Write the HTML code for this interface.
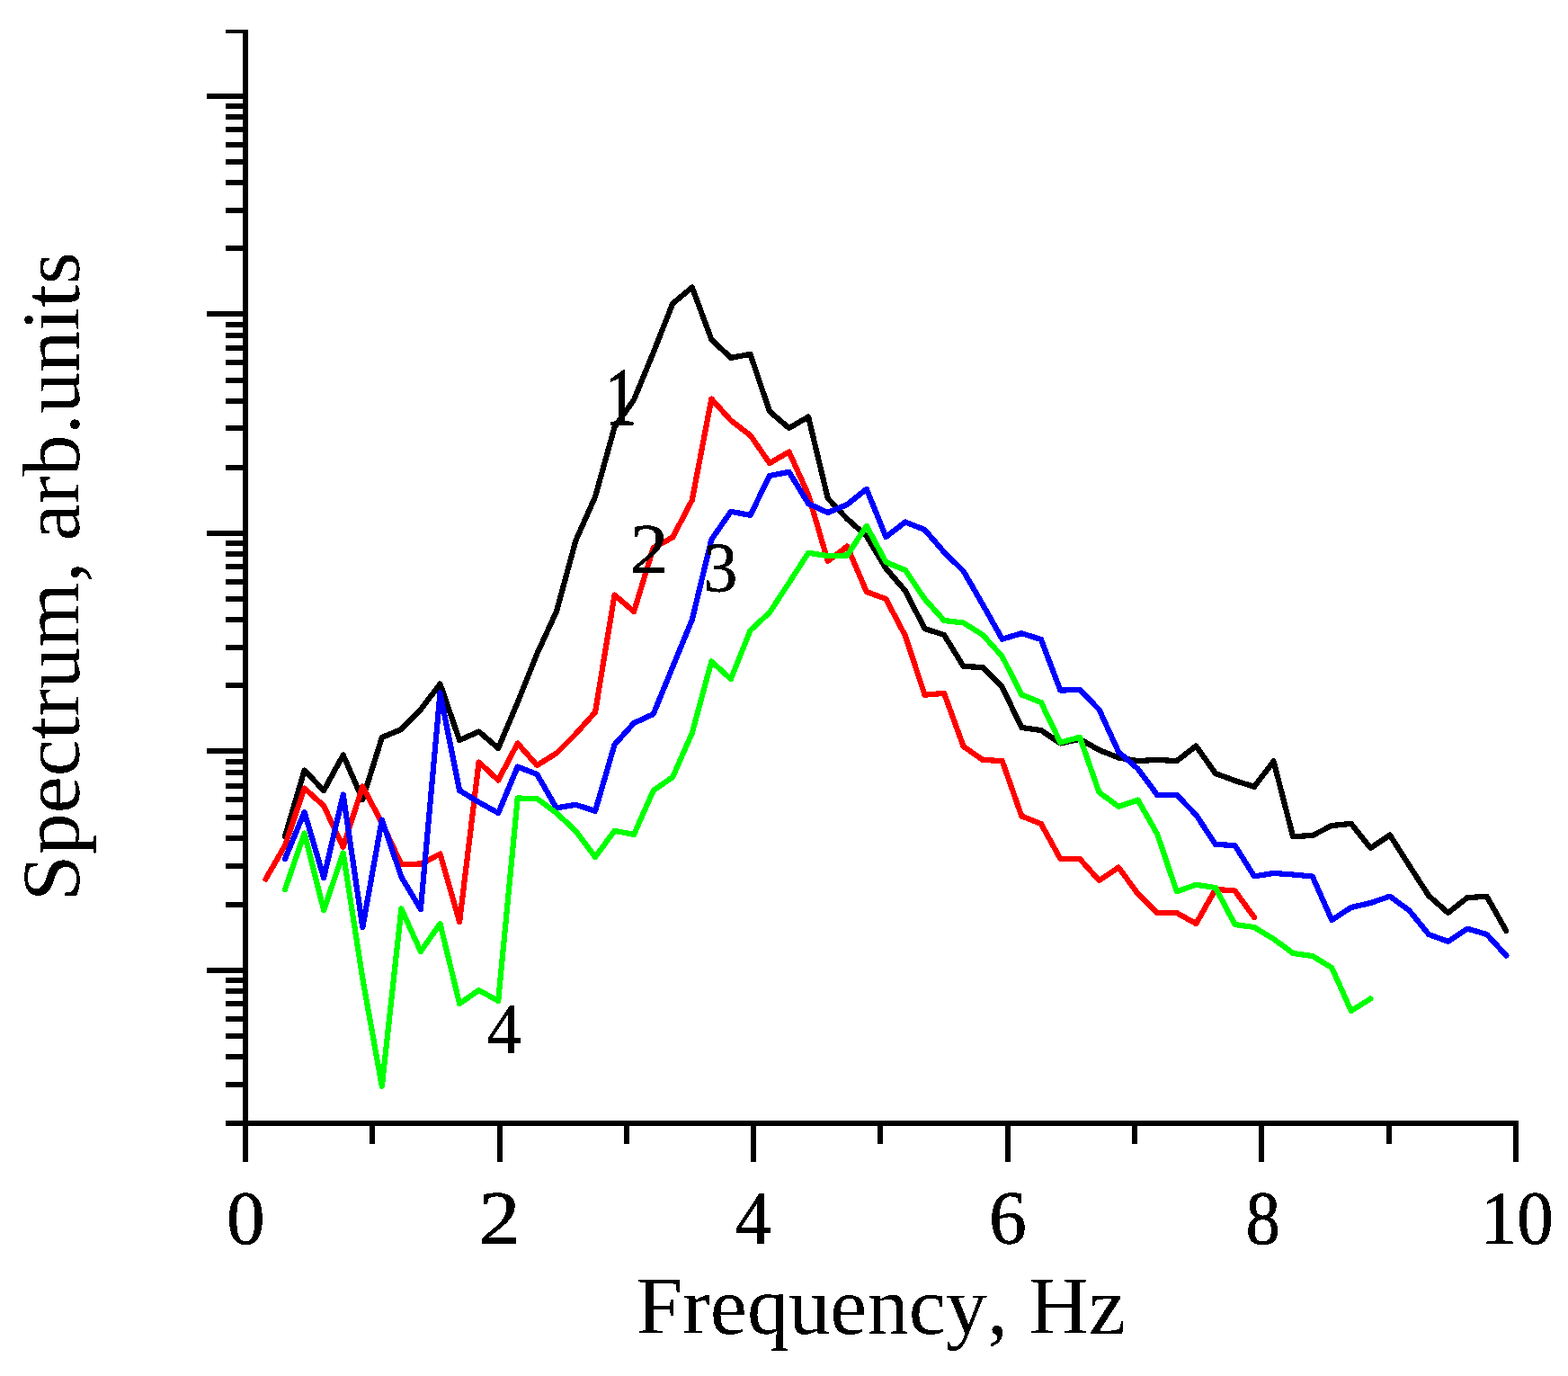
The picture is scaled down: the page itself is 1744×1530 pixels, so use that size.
<!DOCTYPE html>
<html lang="en">
<head>
<meta charset="utf-8">
<title>Spectrum vs Frequency</title>
<style>
html,body{margin:0;padding:0;background:#fff;}
body{width:1744px;height:1530px;overflow:hidden;font-family:"Liberation Serif","DejaVu Serif",serif;}
svg{display:block;}
</style>
</head>
<body>
<svg width="1744" height="1530" viewBox="0 0 1744 1530">
<defs><filter id="bin" x="0" y="0" width="1744" height="1530" filterUnits="userSpaceOnUse" color-interpolation-filters="sRGB"><feComponentTransfer><feFuncA type="discrete" tableValues="0 1"/></feComponentTransfer></filter></defs>
<rect width="1744" height="1530" fill="#fff"/>
<path d="M270,33H276V1292H270ZM251,1246H1689V1252H251ZM230,104H273V110H230ZM251,273H273V279H251ZM251,231H273V237H251ZM251,200H273V206H251ZM251,177H273V183H251ZM251,158H273V164H251ZM251,141H273V147H251ZM251,127H273V133H251ZM251,115H273V121H251ZM230,346H273V352H230ZM251,517H273V523H251ZM251,473H273V479H251ZM251,443H273V449H251ZM251,420H273V426H251ZM251,400H273V406H251ZM251,384H273V390H251ZM251,370H273V376H251ZM251,358H273V364H251ZM230,590H273V596H230ZM251,759H273V765H251ZM251,717H273V723H251ZM251,686H273V692H251ZM251,663H273V669H251ZM251,644H273V650H251ZM251,627H273V633H251ZM251,613H273V619H251ZM251,601H273V607H251ZM230,832H273V838H230ZM251,1003H273V1009H251ZM251,960H273V966H251ZM251,929H273V935H251ZM251,906H273V912H251ZM251,886H273V892H251ZM251,871H273V877H251ZM251,856H273V862H251ZM251,844H273V850H251ZM230,1076H273V1082H230ZM251,1203H273V1209H251ZM251,1172H273V1178H251ZM251,1149H273V1155H251ZM251,1130H273V1136H251ZM251,1113H273V1119H251ZM251,1099H273V1105H251ZM251,1087H273V1093H251ZM251,33H273V37H251ZM411,1249H417V1272H411ZM553,1249H559V1292H553ZM694,1249H700V1272H694ZM835,1249H841V1292H835ZM976,1249H982V1272H976ZM1118,1249H1124V1292H1118ZM1259,1249H1265V1272H1259ZM1400,1249H1406V1292H1400ZM1542,1249H1548V1272H1542ZM1683,1249H1689V1292H1683Z" fill="#000" shape-rendering="crispEdges"/>
<polyline points="317.0,930.0 338.6,856.5 360.1,879.0 381.7,839.5 403.3,889.0 424.8,820.0 446.4,811.0 467.9,789.0 489.5,760.5 511.1,823.0 532.6,813.5 554.2,832.0 575.7,781.0 597.3,727.0 618.9,680.0 640.4,601.0 662.0,552.5 683.5,475.0 705.1,444.5 726.7,392.0 748.2,337.5 769.8,319.5 791.3,377.5 812.9,397.9 834.5,393.8 856.0,457.5 877.6,476.0 899.1,463.5 920.7,554.0 942.3,577.0 963.8,596.0 985.4,632.0 1006.9,657.0 1028.5,699.0 1050.1,706.0 1071.6,741.0 1093.2,742.0 1114.7,764.0 1136.3,809.0 1157.9,812.0 1179.4,826.5 1201.0,821.8 1222.5,834.0 1244.1,842.5 1265.7,846.1 1287.2,844.9 1308.8,846.1 1330.3,829.5 1351.9,860.0 1373.5,868.0 1395.0,874.8 1416.6,846.5 1438.1,930.1 1459.7,929.0 1481.3,918.0 1502.8,915.9 1524.4,943.0 1545.9,928.5 1567.5,962.5 1589.1,996.0 1610.6,1015.0 1632.2,998.0 1653.7,996.9 1675.3,1035.0" fill="none" stroke="#000000" stroke-width="6.2" stroke-linejoin="round" stroke-linecap="round" shape-rendering="crispEdges"/>
<polyline points="295.5,977.5 317.0,940.0 338.6,876.5 360.1,896.0 381.7,942.0 403.3,874.5 424.8,915.0 446.4,961.1 467.9,960.5 489.5,949.5 511.1,1025.0 532.6,847.5 554.2,867.5 575.7,826.5 597.3,851.0 618.9,837.5 640.4,816.0 662.0,792.0 683.5,661.5 705.1,680.0 726.7,609.0 748.2,597.5 769.8,556.0 791.3,443.5 812.9,467.5 834.5,484.0 856.0,515.0 877.6,502.5 899.1,550.0 920.7,624.0 942.3,607.5 963.8,658.0 985.4,666.0 1006.9,707.0 1028.5,772.7 1050.1,770.9 1071.6,830.0 1093.2,845.0 1114.7,846.0 1136.3,907.5 1157.9,916.0 1179.4,955.0 1201.0,955.0 1222.5,979.0 1244.1,964.5 1265.7,994.0 1287.2,1015.0 1308.8,1015.0 1330.3,1027.0 1351.9,988.9 1373.5,990.5 1395.0,1020.0" fill="none" stroke="#ff0000" stroke-width="6.2" stroke-linejoin="round" stroke-linecap="round" shape-rendering="crispEdges"/>
<polyline points="317.0,955.0 338.6,903.0 360.1,976.0 381.7,883.5 403.3,1031.0 424.8,911.5 446.4,975.0 467.9,1011.0 489.5,770.5 511.1,879.0 532.6,892.0 554.2,904.0 575.7,852.5 597.3,861.0 618.9,898.4 640.4,894.8 662.0,901.8 683.5,828.0 705.1,804.0 726.7,794.0 748.2,741.5 769.8,689.0 791.3,600.0 812.9,568.8 834.5,572.9 856.0,529.0 877.6,524.8 899.1,560.0 920.7,570.0 942.3,561.0 963.8,543.8 985.4,597.0 1006.9,580.5 1028.5,589.0 1050.1,614.0 1071.6,635.0 1093.2,672.5 1114.7,710.7 1136.3,704.2 1157.9,711.0 1179.4,767.6 1201.0,767.0 1222.5,789.0 1244.1,836.0 1265.7,855.0 1287.2,884.0 1308.8,884.0 1330.3,906.0 1351.9,939.0 1373.5,940.0 1395.0,974.4 1416.6,970.9 1438.1,972.5 1459.7,974.5 1481.3,1023.0 1502.8,1009.0 1524.4,1004.0 1545.9,996.6 1567.5,1012.5 1589.1,1039.0 1610.6,1046.9 1632.2,1032.6 1653.7,1039.0 1675.3,1062.5" fill="none" stroke="#0000ff" stroke-width="6.2" stroke-linejoin="round" stroke-linecap="round" shape-rendering="crispEdges"/>
<polyline points="317.0,989.0 338.6,926.5 360.1,1012.0 381.7,948.5 403.3,1088.0 424.8,1208.0 446.4,1010.5 467.9,1058.0 489.5,1027.0 511.1,1116.0 532.6,1101.0 554.2,1113.0 575.7,887.5 597.3,888.0 618.9,904.0 640.4,924.0 662.0,953.0 683.5,923.8 705.1,927.9 726.7,879.0 748.2,864.0 769.8,815.0 791.3,735.5 812.9,755.0 834.5,701.0 856.0,681.0 877.6,648.0 899.1,614.8 920.7,618.1 942.3,617.5 963.8,584.8 985.4,625.0 1006.9,634.0 1028.5,666.0 1050.1,690.0 1071.6,692.5 1093.2,706.0 1114.7,730.0 1136.3,772.5 1157.9,781.0 1179.4,825.6 1201.0,819.7 1222.5,881.0 1244.1,896.8 1265.7,889.6 1287.2,927.5 1308.8,991.3 1330.3,983.8 1351.9,987.0 1373.5,1028.0 1395.0,1031.0 1416.6,1044.0 1438.1,1060.0 1459.7,1063.0 1481.3,1076.0 1502.8,1124.0 1524.4,1110.5" fill="none" stroke="#00ff00" stroke-width="6.2" stroke-linejoin="round" stroke-linecap="round" shape-rendering="crispEdges"/>
<g filter="url(#bin)">
<text transform="translate(273.30,1382.60) scale(1.0,1)" font-size="85.3" text-anchor="middle" stroke="#000" stroke-width="0.7" stroke-linejoin="round" font-family="'Liberation Serif', 'DejaVu Serif', serif">0</text>
<text transform="translate(555.60,1382.60) scale(1.08,1)" font-size="85.3" text-anchor="middle" stroke="#000" stroke-width="0.7" stroke-linejoin="round" font-family="'Liberation Serif', 'DejaVu Serif', serif">2</text>
<text transform="translate(837.80,1382.60) scale(0.93,1)" font-size="85.3" text-anchor="middle" stroke="#000" stroke-width="0.7" stroke-linejoin="round" font-family="'Liberation Serif', 'DejaVu Serif', serif">4</text>
<text transform="translate(1120.90,1382.60) scale(0.98,1)" font-size="85.3" text-anchor="middle" stroke="#000" stroke-width="0.7" stroke-linejoin="round" font-family="'Liberation Serif', 'DejaVu Serif', serif">6</text>
<text transform="translate(1404.80,1382.60) scale(0.9,1)" font-size="85.3" text-anchor="middle" stroke="#000" stroke-width="0.7" stroke-linejoin="round" font-family="'Liberation Serif', 'DejaVu Serif', serif">8</text>
<text transform="translate(1687.20,1382.60) scale(0.95,1)" font-size="85.3" text-anchor="middle" stroke="#000" stroke-width="0.7" stroke-linejoin="round" font-family="'Liberation Serif', 'DejaVu Serif', serif">10</text>
<text transform="translate(979.8,1483.4) scale(1.013,1)" font-size="91.3" text-anchor="middle" style="font-kerning:none" font-family="'Liberation Serif', 'DejaVu Serif', serif">Frequency, Hz</text>
<text transform="translate(87.6,641.1) rotate(-90) scale(1.013,1)" font-size="91.3" text-anchor="middle" style="font-kerning:none" font-family="'Liberation Serif', 'DejaVu Serif', serif">Spectrum, arb.units</text>
<text transform="translate(690.60,472.35) scale(0.77,1)" font-size="90.8" text-anchor="middle" stroke="#000" stroke-width="1.3" stroke-linejoin="round" font-family="'Liberation Serif', 'DejaVu Serif', serif">1</text>
<text transform="translate(722.00,635.60) scale(1.097,1)" font-size="78.3" text-anchor="middle" stroke="#000" stroke-width="0.7" stroke-linejoin="round" font-family="'Liberation Serif', 'DejaVu Serif', serif">2</text>
<text transform="translate(801.30,657.20) scale(0.958,1)" font-size="78.8" text-anchor="middle" stroke="#000" stroke-width="0.7" stroke-linejoin="round" font-family="'Liberation Serif', 'DejaVu Serif', serif">3</text>
<text transform="translate(560.60,1170.70) scale(0.95,1)" font-size="80.3" text-anchor="middle" stroke="#000" stroke-width="0.7" stroke-linejoin="round" font-family="'Liberation Serif', 'DejaVu Serif', serif">4</text>
</g>
</svg>
</body>
</html>
